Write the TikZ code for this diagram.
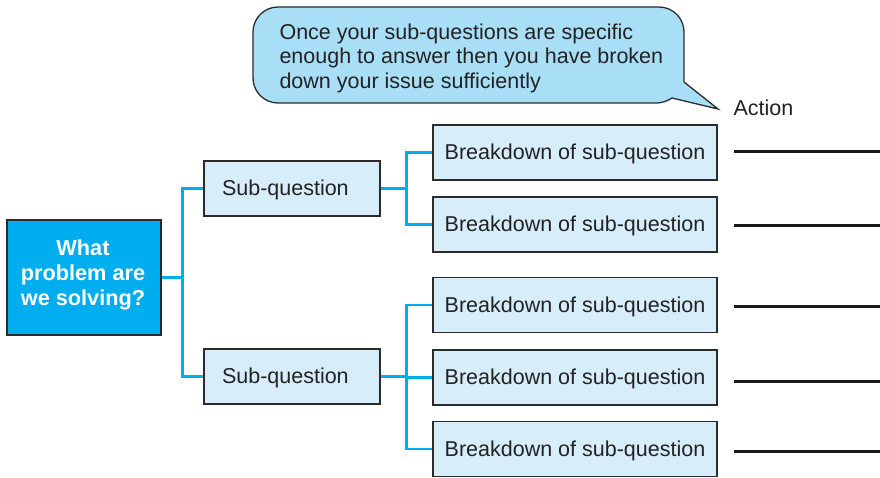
\documentclass[tikz,border=0pt]{standalone}
\usepackage{fontspec}
\setmainfont{Liberation Sans}
\definecolor{rootblue}{HTML}{00AEEF}
\definecolor{linkblue}{HTML}{00AEEF}
\definecolor{boxfill}{HTML}{D7EEFA}
\definecolor{bubblefill}{HTML}{A9DEF7}
\definecolor{edge}{HTML}{2B2B2B}
\definecolor{ink}{HTML}{222222}
\begin{document}
\begin{tikzpicture}[x=1pt,y=-1pt,
  every node/.style={font=\fontsize{21.5}{25}\selectfont, text=ink},
  label/.style={text height=17, text depth=3},
  rootbox/.style={draw=edge, line width=1.3pt, fill=rootblue, minimum width=154, minimum height=115, inner sep=0pt},
  subbox/.style={label, draw=edge, line width=1.3pt, fill=boxfill, minimum height=55, text width=140, inner xsep=18, inner ysep=0pt, align=left},
  partbox/.style={label, draw=edge, line width=1.3pt, fill=boxfill, minimum width=284, minimum height=55, inner sep=0pt},
  link/.style={draw=linkblue, line width=2.7pt},
  actionline/.style={draw=black!90, line width=3pt},
  bubble/.style={draw=edge, line width=1.3pt, fill=bubblefill}]
\useasboundingbox (0,0) rectangle (880,478);

% speech bubble with its tail
\draw[bubble] (278,7) -- (659,7) .. controls (672.8,7) and (684,18.2) .. (684,32)
  -- (684,82) -- (718,109) -- (672,98) .. controls (667,101) and (663,103) .. (655,103)
  -- (278,103) .. controls (264.2,103) and (253,91.8) .. (253,78)
  -- (253,32) .. controls (253,18.2) and (264.2,7) .. (278,7) -- cycle;
\node[anchor=west, align=left, font=\fontsize{21.5}{24.5}\selectfont] (note) at (276,58)
  {Once your sub-questions are specific\\enough to answer then you have broken\\down your issue sufficiently};
\node[anchor=west] (action) at (730,108) {Action};

% root question
\node[rootbox] (root) at (84,277.5) {};
\node[align=center, text=white, font=\bfseries\fontsize{21.7}{25}\selectfont] (roottext) at (83,274.5)
  {What\\problem are\\we solving?};

% sub-questions
\node[subbox] (s1) at (292,188.5) {Sub-question};
\node[subbox] (s2) at (292,376.5) {Sub-question};

% breakdowns
\node[partbox] (b1) at (575,152.5) {Breakdown of sub-question};
\node[partbox] (b2) at (575,224.5) {Breakdown of sub-question};
\node[partbox] (b3) at (575,305) {Breakdown of sub-question};
\node[partbox] (b4) at (575,377.5) {Breakdown of sub-question};
\node[partbox] (b5) at (575,449) {Breakdown of sub-question};

% connectors
\draw[link] (root.east) -- ++(21,0) |- (s1.west);
\draw[link] (root.east) -- ++(21,0) |- (s2.west);
\draw[link] (s1.east) -- ++(26,0) |- (b1.west);
\draw[link] (s1.east) -- ++(26,0) |- (b2.west);
\draw[link] (s2.east) -- ++(26,0) |- (b3.west);
\draw[link] (s2.east) -- ++(26,0) |- (b4.west);
\draw[link] (s2.east) -- ++(26,0) |- (b5.west);

% action lines
\foreach \i/\y in {1/152,2/226,3/306,4/381,5/451}{
  \coordinate (a\i s) at (734,\y);
  \coordinate (a\i e) at (880,\y);
  \draw[actionline] (a\i s) -- (a\i e);
}
\end{tikzpicture}
\end{document}
